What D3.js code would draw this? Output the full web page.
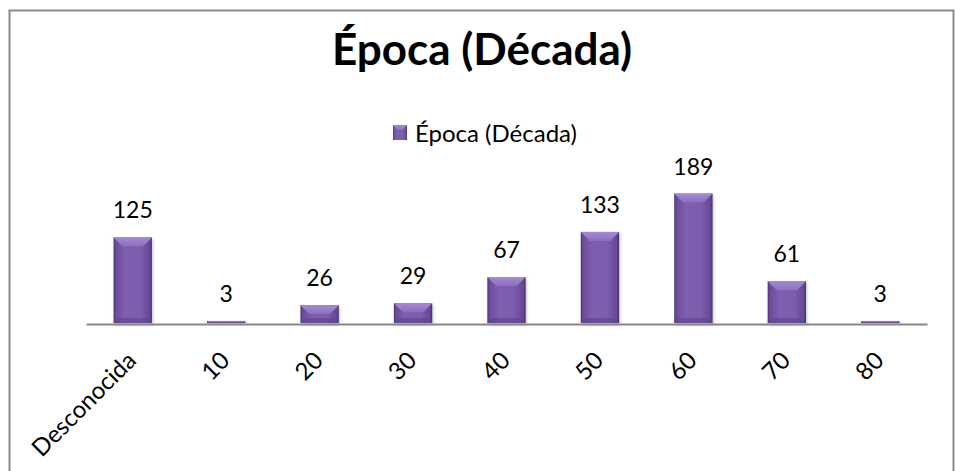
<!DOCTYPE html>
<html>
<head>
<meta charset="utf-8">
<script src="https://cdn.jsdelivr.net/npm/d3@7"></script>
<style>
  body { margin: 0; background: #fff; }
  svg { display: block; font-family: Lato, "Noto Sans", sans-serif; }
</style>
</head>
<body>
<div id="chart"></div>
<script>
const categories = ['Desconocida', '10', '20', '30', '40', '50', '60', '70', '80'];
const values = [125, 3, 26, 29, 67, 133, 189, 61, 3];
const seriesName = 'Época (Década)';
const chartTitle = 'Época (Década)';

const W = 955, H = 471;
const svg = d3.select('#chart').append('svg')
    .attr('width', W)
    .attr('height', H);

const defs = svg.append('defs');

// body of the bar: dark edges, lighter middle
const body = defs.append('linearGradient').attr('id', 'barBody')
    .attr('x1', 0).attr('x2', 1).attr('y1', 0).attr('y2', 0);
body.append('stop').attr('offset', '0%').attr('stop-color', '#4b3570');
body.append('stop').attr('offset', '6%').attr('stop-color', '#6b4d9a');
body.append('stop').attr('offset', '30%').attr('stop-color', '#7e5eb0');
body.append('stop').attr('offset', '70%').attr('stop-color', '#7c5cad');
body.append('stop').attr('offset', '94%').attr('stop-color', '#664994');
body.append('stop').attr('offset', '100%').attr('stop-color', '#432f66');

const topG = defs.append('linearGradient').attr('id', 'barTop')
    .attr('x1', 0).attr('x2', 0).attr('y1', 0).attr('y2', 1);
topG.append('stop').attr('offset', '0%').attr('stop-color', '#a48cd4');
topG.append('stop').attr('offset', '100%').attr('stop-color', '#8b6ebf');

const shadow = defs.append('filter').attr('id', 'shadow')
    .attr('x', '-20%').attr('y', '-20%').attr('width', '140%').attr('height', '140%');
shadow.append('feDropShadow').attr('dx', 1).attr('dy', 2).attr('stdDeviation', 1.5)
    .attr('flood-color', '#000').attr('flood-opacity', 0.25);

// chart border
svg.append('rect')
    .attr('x', 9.5).attr('y', 10.5)
    .attr('width', 944).attr('height', 470)
    .attr('fill', '#fff')
    .attr('stroke', '#8a8a8a')
    .attr('stroke-width', 2);

svg.append('text')
    .attr('x', 482).attr('y', 65)
    .attr('text-anchor', 'middle')
    .attr('font-size', 44)
    .attr('font-weight', 'bold')
    .attr('fill', '#000')
    .text(chartTitle);

// legend
const legend = svg.append('g').attr('transform', 'translate(393,125)');
legend.append('rect')
    .attr('width', 14).attr('height', 15)
    .attr('fill', 'url(#barBody)');
legend.append('path')
    .attr('d', 'M0,0 L14,0 L10,5 L4,5 Z')
    .attr('fill', 'url(#barTop)');
legend.append('text')
    .attr('x', 22).attr('y', 17)
    .attr('font-size', 24)
    .attr('fill', '#000')
    .text(seriesName);

const x = d3.scaleBand()
    .domain(categories)
    .range([86, 927])
    .paddingInner(0.59)
    .paddingOuter(0.295);

const y = d3.scaleLinear()
    .domain([0, 200])
    .range([323, 186]);

const bars = svg.selectAll('.bar')
    .data(values)
    .enter().append('g')
    .attr('class', 'bar')
    .attr('filter', 'url(#shadow)');

bars.append('rect')
    .attr('x', (d, i) => x(categories[i]))
    .attr('y', d => y(d))
    .attr('width', x.bandwidth())
    .attr('height', d => y(0) - y(d))
    .attr('fill', 'url(#barBody)');

// top bevel
bars.append('path')
    .attr('fill', 'url(#barTop)')
    .attr('d', (d, i) => {
        const x0 = x(categories[i]), w = x.bandwidth();
        const t = y(d), h = y(0) - y(d);
        const b = Math.min(9, h / 2);
        return 'M' + x0 + ',' + t + ' L' + (x0 + w) + ',' + t +
            ' L' + (x0 + w - b) + ',' + (t + b) + ' L' + (x0 + b) + ',' + (t + b) + ' Z';
    });

// bottom bevel, slightly darker
bars.append('path')
    .attr('fill', '#5e4488')
    .attr('opacity', 0.6)
    .attr('d', (d, i) => {
        const x0 = x(categories[i]), w = x.bandwidth();
        const bt = y(0), h = y(0) - y(d);
        const b = Math.min(5, h / 2);
        return 'M' + x0 + ',' + bt + ' L' + (x0 + w) + ',' + bt +
            ' L' + (x0 + w - b) + ',' + (bt - b) + ' L' + (x0 + b) + ',' + (bt - b) + ' Z';
    });

// value labels
svg.selectAll('.val')
    .data(values)
    .enter().append('text')
    .attr('class', 'val')
    .attr('x', (d, i) => x(categories[i]) + x.bandwidth() / 2)
    .attr('y', d => y(d) - 19)
    .attr('text-anchor', 'middle')
    .attr('font-size', 23)
    .attr('fill', '#000')
    .text(d => d);

// x axis
const xAxis = svg.append('g')
    .attr('transform', 'translate(0,324)')
    .call(d3.axisBottom(x).tickSize(0).tickPadding(0));
xAxis.select('.domain').attr('stroke', '#868686').attr('stroke-width', 1.8);
xAxis.selectAll('.tick text')
    .attr('font-family', 'Lato, "Noto Sans", sans-serif')
    .attr('font-size', 24)
    .attr('fill', '#000')
    .attr('text-anchor', 'end')
    .attr('dy', 0)
    .attr('y', 0)
    .attr('transform', 'translate(5,38) rotate(-45)');
</script>
</body>
</html>
